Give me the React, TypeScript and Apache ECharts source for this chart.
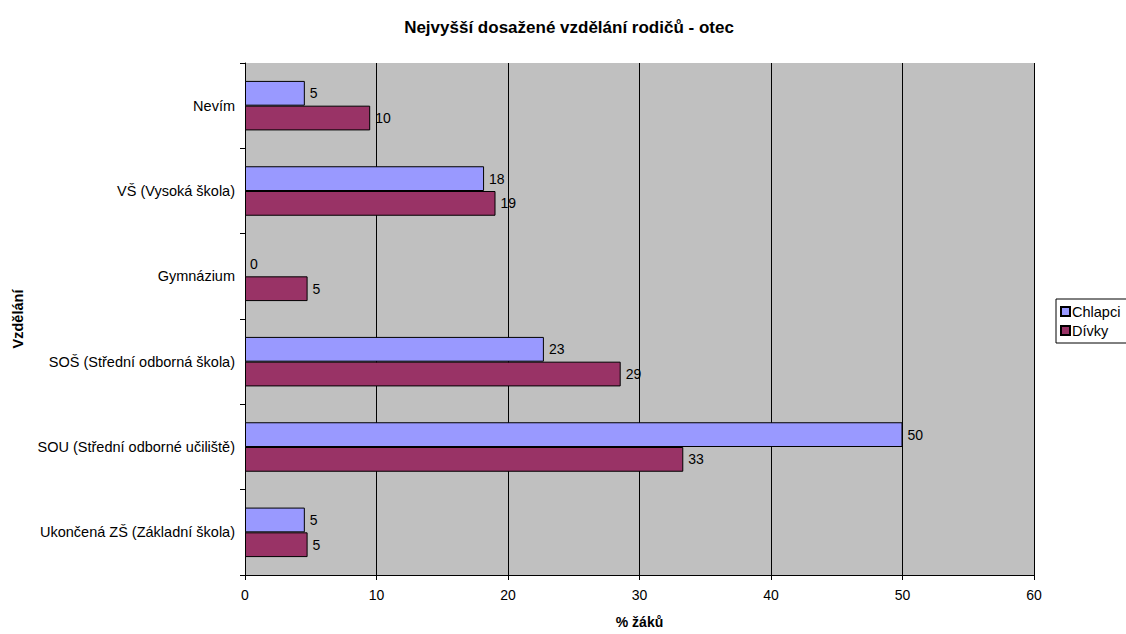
import React, { useEffect, useRef } from "react";
import * as echarts from "echarts";

const categories = [
  "Ukončená ZŠ (Základní škola)",
  "SOU (Střední odborné učiliště)",
  "SOŠ (Střední odborná škola)",
  "Gymnázium",
  "VŠ (Vysoká škola)",
  "Nevím",
];
const chlapci = [4.55, 50, 22.73, 0, 18.18, 4.55];
const divky = [4.76, 33.33, 28.57, 4.76, 19.05, 9.52];
const xTicks = [0, 10, 20, 30, 40, 50, 60];

const FONT = "'Liberation Sans', Arial, sans-serif";

export default function App() {
  const ref = useRef<HTMLDivElement>(null);
  useEffect(() => {
    if (!ref.current) return;
    const chart = echarts.init(ref.current, null, { renderer: "svg" });
    const label = {
      show: true,
      position: "right" as const,
      distance: 5,
      color: "#000",
      fontSize: 14,
      fontFamily: FONT,
      formatter: (p: any) => String(Math.round(p.value)),
    };
    const toItems = (arr: number[]) =>
      arr.map((v) => (v === 0 ? { value: v, itemStyle: { borderWidth: 0 } } : v));
    chart.setOption({
      animation: false,
      backgroundColor: "#fff",
      textStyle: { fontFamily: FONT },
      title: {
        text: "Nejvyšší dosažené vzdělání rodičů - otec",
        left: 564,
        textAlign: "center",
        top: 14,
        textStyle: { fontSize: 17, fontWeight: "bold", color: "#000", fontFamily: FONT },
      },
      legend: {
        orient: "vertical",
        left: 1056,
        top: 299,
        itemWidth: 9,
        itemHeight: 9,
        itemGap: 4,
        padding: [5, 20, 5, 4],
        borderColor: "#000",
        borderWidth: 1,
        icon: "rect",
        textStyle: { fontSize: 14.5, color: "#000", fontFamily: FONT, padding: [0, 0, 0, -3] },
        data: ["Chlapci", "Dívky"],
      },
      grid: {
        left: 245,
        right: 92,
        top: 63,
        bottom: 54,
        show: true,
        backgroundColor: "#C0C0C0",
        borderWidth: 0,
      },
      xAxis: {
        type: "value",
        min: xTicks[0],
        max: xTicks[xTicks.length - 1],
        interval: 10,
        name: "% žáků",
        nameLocation: "middle",
        nameGap: 40,
        nameTextStyle: { fontSize: 14, fontWeight: "bold", color: "#000", fontFamily: FONT },
        axisLine: { show: true, lineStyle: { color: "#000" } },
        axisTick: { show: true, length: 5, lineStyle: { color: "#000" } },
        axisLabel: { fontSize: 14, color: "#000", margin: 13, fontFamily: FONT },
        splitLine: { show: true, lineStyle: { color: "#000", width: 1 } },
      },
      yAxis: {
        type: "category",
        data: categories,
        name: "Vzdělání",
        nameLocation: "middle",
        nameGap: 220,
        nameRotate: 90,
        nameTextStyle: { fontSize: 14.5, fontWeight: "bold", color: "#000", fontFamily: FONT },
        axisLine: { show: true, lineStyle: { color: "#000" } },
        axisTick: { show: true, length: 5, alignWithLabel: false, lineStyle: { color: "#000" } },
        axisLabel: { fontSize: 14.5, color: "#000", margin: 10, fontFamily: FONT },
        splitLine: { show: false },
      },
      series: [
        {
          name: "Chlapci",
          type: "bar",
          data: toItems(chlapci),
          barGap: "0%",
          barCategoryGap: "42%",
          itemStyle: { color: "#9999FF", borderColor: "#000", borderWidth: 1 },
          label,
        },
        {
          name: "Dívky",
          type: "bar",
          data: toItems(divky),
          barGap: "0%",
          barCategoryGap: "42%",
          itemStyle: { color: "#993366", borderColor: "#000", borderWidth: 1 },
          label,
        },
      ],
    });
    return () => chart.dispose();
  }, []);
  return (
    <div
      ref={ref}
      style={{ position: "absolute", left: 0, top: 0, width: 1126, height: 634 }}
    />
  );
}
